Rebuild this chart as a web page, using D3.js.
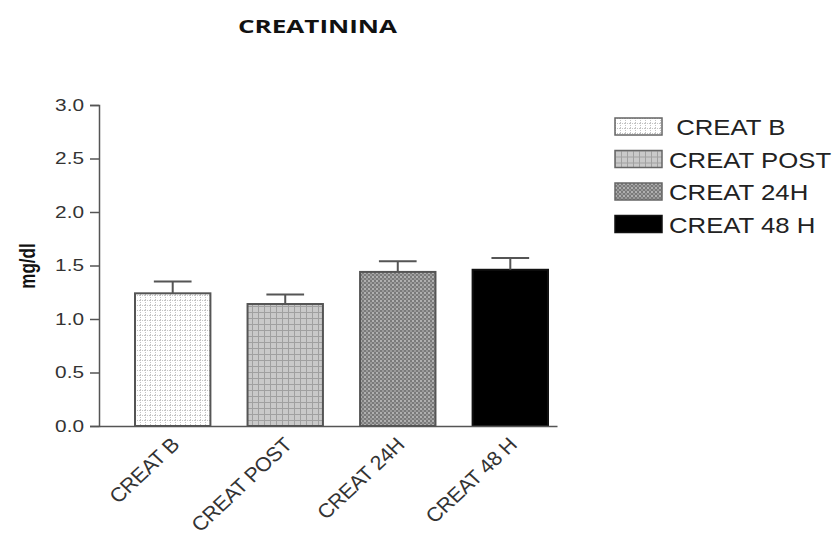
<!DOCTYPE html>
<html>
<head>
<meta charset="utf-8">
<script src="https://cdn.jsdelivr.net/npm/d3@7"></script>
<style>
body{margin:0;background:#fff;}
svg{display:block;font-family:"Liberation Sans",Arial,sans-serif;}
</style>
</head>
<body>
<svg id="chart" width="837" height="546"></svg>
<script>
// data
var categories = ['CREAT B','CREAT POST','CREAT 24H','CREAT 48 H'];
var legendLabels = [' CREAT B','CREAT POST','CREAT 24H','CREAT 48 H'];
var means = [1.24, 1.14, 1.44, 1.46];
var errors = [0.11, 0.09, 0.10, 0.11];
var yTicks = [0, 0.5, 1, 1.5, 2, 2.5, 3];

var svg = d3.select('#chart');
var axisColor = '#555';
var axisX = 99;

// fill patterns
var defs = svg.append('defs');
var p1 = defs.append('pattern').attr('id','pat0').attr('width',5).attr('height',5).attr('patternUnits','userSpaceOnUse');
p1.append('rect').attr('width',5).attr('height',5).attr('fill','#fff');
p1.append('path').attr('d','M0 0.5 H5 M0.5 0 V5').attr('stroke','#c4c4c4').attr('stroke-width',1).attr('stroke-dasharray','1 1');
var p2 = defs.append('pattern').attr('id','pat1').attr('width',6).attr('height',6).attr('patternUnits','userSpaceOnUse');
p2.append('rect').attr('width',6).attr('height',6).attr('fill','#c9c9c9');
p2.append('path').attr('d','M0 0.5 H6 M0.5 0 V6').attr('stroke','#a0a0a0').attr('stroke-width',1);
var p3 = defs.append('pattern').attr('id','pat2').attr('width',4).attr('height',4).attr('patternUnits','userSpaceOnUse');
p3.append('rect').attr('width',4).attr('height',4).attr('fill','#7a7a7a');
p3.append('rect').attr('width',2).attr('height',2).attr('fill','#b0b0b0');
p3.append('rect').attr('x',2).attr('y',2).attr('width',2).attr('height',2).attr('fill','#9a9a9a');
var fills = ['url(#pat0)','url(#pat1)','url(#pat2)','#000'];

var x = d3.scaleBand().domain(categories).range([axisX, 557]).paddingInner(0.33).paddingOuter(0.2).align(0.8);
var y = d3.scaleLinear().domain([0, 3]).range([426, 105]);

// title (the picture is stretched sideways)
svg.append('text').attr('x',238).attr('y',33)
  .attr('font-family','"Open Sans",sans-serif').attr('font-weight','bold').attr('font-size','18px').attr('fill','#111')
  .attr('textLength',159).attr('lengthAdjust','spacingAndGlyphs')
  .text('CREATININA');

// y axis
var yAxis = svg.append('g').attr('transform','translate('+axisX+',0)')
  .call(d3.axisLeft(y).tickValues(yTicks).tickFormat(d3.format('.1f')).tickSize(9).tickSizeOuter(9));
yAxis.selectAll('path,line').attr('stroke',axisColor).attr('stroke-width',1.5);
yAxis.selectAll('text').attr('font-size','16px').attr('fill','#333')
  .attr('font-family','"Liberation Sans",Arial,sans-serif')
  .attr('x',0).attr('transform','translate(-15,0) scale(1.3,1)');

svg.append('text').attr('transform','translate(35,266) scale(1.3,1) rotate(-90)').attr('text-anchor','middle')
  .attr('font-weight','bold').attr('font-size','17px').attr('fill','#111').text('mg/dl');

// bars
svg.append('g').selectAll('rect').data(categories).join('rect')
  .attr('x',function(d){return x(d);})
  .attr('y',function(d,i){return y(means[i]);})
  .attr('width',x.bandwidth())
  .attr('height',function(d,i){return y(0)-y(means[i]);})
  .attr('fill',function(d,i){return fills[i];})
  .attr('stroke',function(d,i){return i==3?'#111':'#555';})
  .attr('stroke-width',2);

// error bars (upper only)
var eb = svg.append('g').attr('stroke','#555').attr('stroke-width',2);
categories.forEach(function(c,i){
  var cx = x(c)+x.bandwidth()/2;
  eb.append('line').attr('x1',cx).attr('x2',cx).attr('y1',y(means[i])).attr('y2',y(means[i]+errors[i]));
  eb.append('line').attr('x1',cx-x.bandwidth()/4).attr('x2',cx+x.bandwidth()/4).attr('y1',y(means[i]+errors[i])).attr('y2',y(means[i]+errors[i]));
});

// x axis
var xAxis = svg.append('g').attr('transform','translate(0,426)')
  .call(d3.axisBottom(x).tickSize(0).tickSizeOuter(0));
xAxis.select('.domain').attr('stroke',axisColor).attr('stroke-width',1.5);
xAxis.selectAll('text').attr('font-size','20px').attr('fill','#333')
  .attr('font-family','"Liberation Sans",Arial,sans-serif')
  .attr('text-anchor','end').attr('dy','0').attr('y',0)
  .attr('letter-spacing','-0.3')
  .attr('transform','translate(8,20) scale(1.07,1) rotate(-45)');

// legend
var lg = svg.append('g').attr('transform','translate(615,118)');
var row = lg.selectAll('g').data(legendLabels).join('g')
  .attr('transform',function(d,i){return 'translate(0,'+(i*32.5)+')';});
row.append('rect').attr('width',47).attr('height',17)
  .attr('fill',function(d,i){return fills[i];})
  .attr('stroke',function(d,i){return i==3?'#111':'#666';}).attr('stroke-width',1.5);
row.append('text').attr('x',0).attr('y',0).attr('font-size','23px').attr('fill','#222')
  .attr('transform','translate(54,17) scale(1.12,1)')
  .attr('xml:space','preserve').style('white-space','pre')
  .text(function(d){return d;});
</script>
</body>
</html>
